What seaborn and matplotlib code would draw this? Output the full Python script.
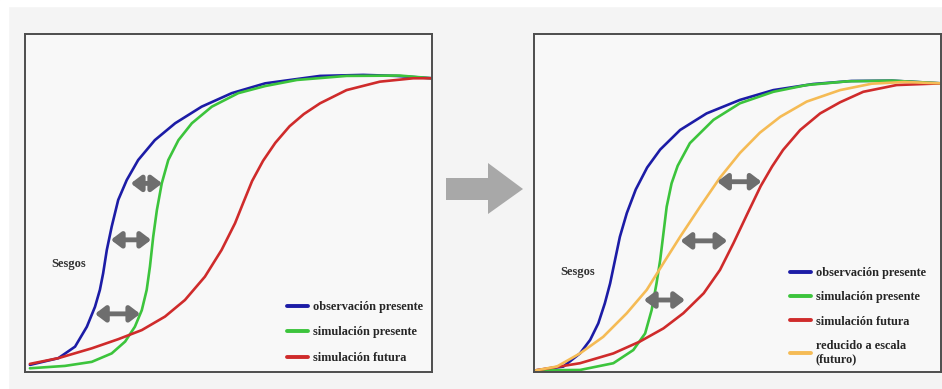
import matplotlib
matplotlib.use("Agg")
import matplotlib.pyplot as plt
from matplotlib.patches import Polygon, Rectangle
import seaborn as sns
import pandas as pd

# curves, panel units: x 0..100 across the frame, y 0..100 up the frame
left_obs_x = [1.2, 8.2, 12.3, 15.2, 17.2, 18.4, 19.2, 20.1, 21.3, 22.9, 25.0, 27.8, 31.9, 36.9, 43.4, 50.8, 59.0, 72.5, 83.1, 91.3, 100]
left_obs_y = [2.1, 4.1, 7.5, 13.4, 19.3, 24.3, 29.2, 36.1, 43.0, 50.9, 56.8, 62.7, 68.6, 73.6, 78.5, 82.5, 85.4, 87.6, 87.9, 87.6, 86.9]
left_sim_x = [1.2, 9.8, 16.4, 21.3, 24.6, 27.0, 28.7, 29.9, 30.7, 31.5, 32.4, 33.6, 35.2, 37.7, 41.0, 45.9, 52.4, 59.0, 66.8, 79.0, 92.1, 100]
left_sim_y = [1.1, 1.8, 3.0, 5.5, 9.0, 13.4, 18.3, 24.3, 31.2, 40.0, 47.9, 55.8, 62.7, 68.6, 73.6, 78.5, 82.5, 84.6, 86.4, 87.6, 87.7, 86.9]
left_fut_x = [1.2, 8.2, 16.4, 22.9, 28.7, 34.4, 39.3, 44.2, 48.3, 51.6, 53.6, 55.8, 58.5, 61.5, 65.0, 68.5, 72.5, 79.0, 87.2, 95.4, 100]
left_fut_y = [2.4, 4.1, 7.0, 9.7, 12.4, 16.4, 21.3, 28.2, 36.1, 44.0, 50.0, 56.5, 62.5, 67.8, 72.7, 76.3, 79.5, 83.4, 85.9, 86.9, 86.9]

right_obs_x = [0.5, 7.2, 11.3, 13.8, 15.8, 17.4, 18.7, 19.9, 21.1, 22.8, 25.0, 27.8, 31.0, 35.9, 42.4, 50.6, 58.8, 68.6, 78.0, 88.0, 100]
right_obs_y = [0.5, 1.6, 5.5, 9.5, 14.4, 20.3, 26.2, 33.1, 40.0, 47.0, 54.0, 60.5, 65.8, 71.6, 76.5, 80.5, 83.4, 85.2, 86.1, 86.2, 85.4]
right_sim_x = [0.5, 11.3, 19.5, 24.4, 27.3, 28.9, 30.1, 31.0, 31.8, 32.6, 33.8, 35.3, 38.3, 44.1, 50.6, 58.8, 67.0, 77.0, 88.0, 100]
right_sim_y = [0.5, 0.6, 2.6, 6.5, 11.4, 18.3, 26.2, 33.1, 41.0, 48.9, 55.8, 61.0, 67.7, 74.6, 79.5, 82.9, 84.9, 86.0, 86.2, 85.4]
right_fut_x = [0.5, 11.3, 19.5, 26.0, 31.8, 36.7, 41.7, 45.7, 49.0, 52.3, 55.7, 58.5, 61.2, 65.4, 70.3, 75.2, 80.9, 89.1, 100]
right_fut_y = [0.5, 2.6, 5.5, 9.0, 12.9, 17.4, 23.3, 30.2, 38.1, 46.5, 55.0, 60.8, 65.7, 71.6, 76.5, 79.8, 82.9, 84.9, 85.4]
right_red_x = [0.5, 5.6, 11.3, 17.0, 22.8, 27.7, 31.8, 35.9, 40.8, 45.7, 50.6, 55.5, 60.5, 67.0, 75.2, 83.0, 91.0, 100]
right_red_y = [0.5, 1.6, 5.5, 10.4, 17.4, 24.3, 32.2, 40.0, 48.9, 57.5, 64.8, 70.8, 75.5, 80.0, 83.4, 85.3, 85.8, 85.4]

series_names = ["observación presente", "simulación presente", "simulación futura", "reducido a escala\n(futuro)"]
series_colors = ["#1c1ca6", "#3cc43c", "#cf2b2b", "#f5bb55"]

# bias arrows: (x start, x end, y)
left_bias = [(26.0, 33.7, 55.8), (21.1, 31.0, 39.1), (17.2, 28.3, 17.2)]
right_bias = [(45.0, 55.9, 56.3), (36.0, 47.5, 38.8), (27.0, 37.1, 21.3)]
bias_label = "Sesgos"

rows = []
def add(panel, name, xs, ys):
    for a, b in zip(xs, ys):
        rows.append({"panel": panel, "serie": name, "x": a, "y": b})

add("left", series_names[0], left_obs_x, left_obs_y)
add("left", series_names[1], left_sim_x, left_sim_y)
add("left", series_names[2], left_fut_x, left_fut_y)
add("right", series_names[0], right_obs_x, right_obs_y)
add("right", series_names[1], right_sim_x, right_sim_y)
add("right", series_names[3], right_red_x, right_red_y)
add("right", series_names[2], right_fut_x, right_fut_y)
df = pd.DataFrame(rows)

sns.set_theme(style="white")
plt.rcParams["font.family"] = ["Liberation Serif", "DejaVu Serif"]
plt.rcParams["lines.solid_joinstyle"] = "round"
plt.rcParams["lines.solid_capstyle"] = "round"

W, H = 942, 389
fig = plt.figure(figsize=(W / 100, H / 100), dpi=100, facecolor="#f4f4f4")
fig.patches.append(Rectangle((0, 1 - 6 / H), 1, 6 / H, transform=fig.transFigure, color="white", zorder=0))
fig.patches.append(Rectangle((0, 0), 8 / W, 1, transform=fig.transFigure, color="white", zorder=0))

palette = dict(zip(series_names, series_colors))

def panel(left_px, name, bias, leg_anchor, spacing):
    ax = fig.add_axes([left_px / W, (H - 372) / H, 407 / W, 338 / H])
    ax.set_facecolor("#f8f8f8")
    sub = df[df["panel"] == name]
    order = [s for s in series_names if s in set(sub["serie"])]
    sns.lineplot(data=sub, x="x", y="y", hue="serie", hue_order=order, palette=palette,
                 sort=False, estimator=None, units="serie", linewidth=1.9, ax=ax)
    ax.set_xlim(0, 100)
    ax.set_ylim(0, 100)
    ax.set_xticks([])
    ax.set_yticks([])
    ax.set_xlabel("")
    ax.set_ylabel("")
    for sp in ax.spines.values():
        sp.set_color("#4d4d4d")
        sp.set_linewidth(1.4)
    for x0, x1, yy in bias:
        ax.annotate("", xy=(x1, yy), xytext=(x0, yy),
                    arrowprops=dict(arrowstyle="<|-|>,head_length=0.5,head_width=0.38",
                                    color="#6e6e6e", lw=3.5, mutation_scale=12,
                                    shrinkA=0, shrinkB=0))
    handles, labels = ax.get_legend_handles_labels()
    for h in handles:
        h.set_linewidth(2.8)
    ax.legend(handles, labels, loc="upper left", bbox_to_anchor=leg_anchor, frameon=False,
              borderaxespad=0, borderpad=0, handlelength=1.7, handletextpad=0.4,
              labelspacing=spacing, prop={"weight": "bold", "size": 8.8})
    for t in ax.get_legend().get_texts():
        t.set_color("#262626")
    return ax

ax1 = panel(25, "left", left_bias, (0.644, 0.21), 1.1)
ax2 = panel(534, "right", right_bias, (0.629, 0.31), 1.0)
ax1.text(10.8, 31.9, bias_label, ha="center", va="center", fontsize=9, fontweight="bold", color="#333333")
ax2.text(10.6, 29.7, bias_label, ha="center", va="center", fontsize=9, fontweight="bold", color="#333333")

# big grey arrow between the panels
axm = fig.add_axes([432 / W, 0, 102 / W, 1])
axm.set_xlim(432, 534)
axm.set_ylim(H, 0)
axm.axis("off")
axm.add_patch(Polygon([(446, 178), (488, 178), (488, 163), (523, 189), (488, 214), (488, 200), (446, 200)],
                      closed=True, color="#a8a8a8", lw=0))

fig.savefig("out.png", dpi=100, facecolor=fig.get_facecolor())
